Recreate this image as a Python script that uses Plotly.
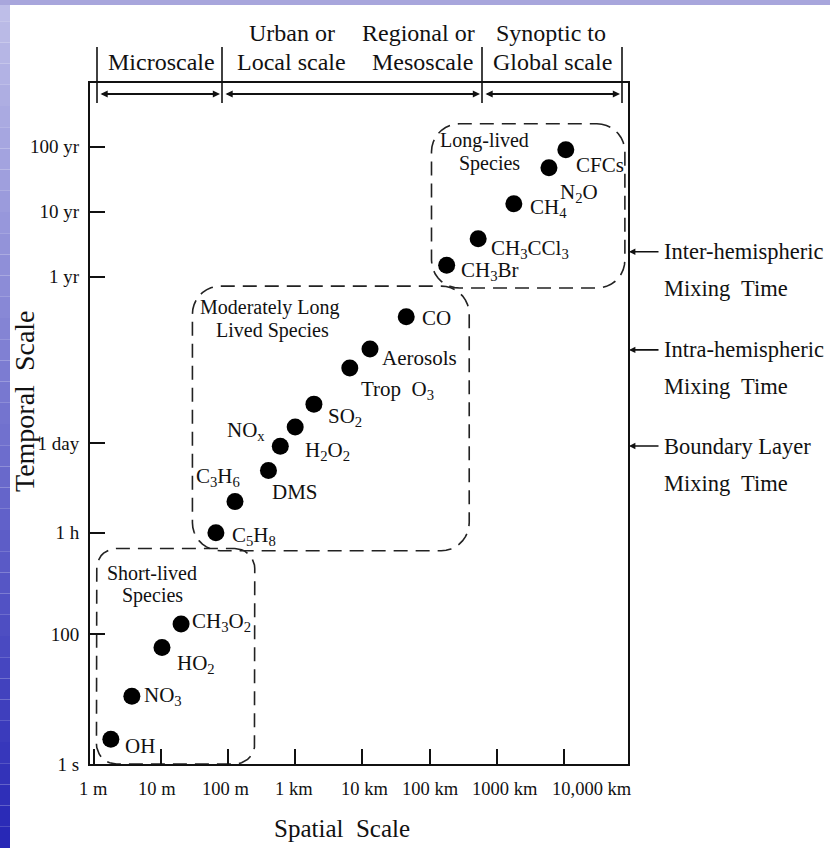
import numpy as np
import plotly.graph_objects as go

# ---------------- data ----------------
species_labels = ["OH", "NO<sub>3</sub>", "HO<sub>2</sub>", "CH<sub>3</sub>O<sub>2</sub>",
                  "C<sub>5</sub>H<sub>8</sub>", "C<sub>3</sub>H<sub>6</sub>", "DMS", "NO<sub>x</sub>",
                  "H<sub>2</sub>O<sub>2</sub>", "SO<sub>2</sub>", "Trop  O<sub>3</sub>", "Aerosols", "CO",
                  "CH<sub>3</sub>Br", "CH<sub>3</sub>CCl<sub>3</sub>", "CH<sub>4</sub>", "N<sub>2</sub>O", "CFCs"]
spatial_m = [1.8, 3.7, 10.4, 20, 66, 127, 400, 600, 1000, 1900, 6500, 13000, 45000,
             1.8e5, 5.3e5, 1.8e6, 6.0e6, 1.07e7]
lifetime_s = [2.4, 11, 62, 143, 3600, 10900, 32800, 77600, 1.53e5, 3.44e5, 1.24e6, 2.43e6, 7.6e6,
              4.7e7, 1.2e8, 4.17e8, 1.49e9, 2.82e9]

x_tick_vals = [1, 10, 100, 1e3, 1e4, 1e5, 1e6, 1e7]
x_tick_text = ["1 m", "10 m", "100 m", "1 km", "10 km", "100 km", "1000 km", "10,000 km"]
y_tick_vals = [1, 100, 3600, 86400, 3.156e7, 3.156e8, 3.156e9]
y_tick_text = ["1 s", "100", "1 h", "1 day", "1 yr", "10 yr", "100 yr"]

# species groups (dashed rounded boxes): extents in metres / seconds
box_x_m = [(1.1, 250), (29.5, 3.9e5), (1.07e5, 8.1e7)]
box_y_s = [(1, 2070), (1914, 2.25e7), (2.10e7, 7.08e9)]
box_title_text = [["Short-lived", "Species"], ["Moderately Long", "Lived Species"], ["Long-lived", "Species"]]
box_title_x_m = [[7.4, 7.6], [420, 459], [6.58e5, 7.83e5]]
box_title_y_s = [[871, 396], [1.07e7, 4.61e6], [3.9e9, 1.75e9]]

mixing_labels = ["Inter-hemispheric", "Intra-hemispheric", "Boundary Layer"]
mixing_time_s = [7.6e7, 2.35e6, 7.8e4]

scale_row1 = ["Urban or", "Regional or", "Synoptic to"]
scale_row2 = ["Microscale", "Local scale", "Mesoscale", "Global scale"]

# ---------------- layout geometry (pixels) ----------------
W, H = 830, 848
L, R, T, B = 90, 628, 83, 764
XR = [-0.055, 7.955]
YR = [0.0, 10.477]
FONT = "Liberation Serif, Times New Roman, serif"


def pxp(x):
    return (x - L) / (R - L)


def pyp(y):
    return (B - y) / (B - T)


# label placement: (xanchor, xshift, yshift)
label_pos = [("left", 12, -7), ("left", 10, 0), ("left", 13, -16), ("left", 9, 2),
             ("left", 14, -3), ("right", 7, 25), ("left", 2, -22), ("right", -13, 15),
             ("left", 8, -24), ("left", 12, -13), ("left", 9, -22), ("left", 10, -9),
             ("left", 14, -1), ("left", 12, -6), ("left", 11, -10), ("left", 14, -4),
             ("left", 9, -25), ("left", 8, -15)]
# x tick label nudges (pixels)
x_label_shift = [0, -4, -3, -1, 2, 1, 8, 28]

fig = go.Figure()

# rounded dashed boxes
rxpx = [20, 28, 28]
for (x0, x1), (y0, y1), rp in zip(box_x_m, box_y_s, rxpx):
    lx0, lx1, ly0, ly1 = np.log10(x0), np.log10(x1), np.log10(y0), np.log10(y1)
    rx = rp / ((R - L) / (XR[1] - XR[0]))
    ry = rp / ((B - T) / (YR[1] - YR[0]))
    xs, ys = [], []
    corners = [((lx1 - rx, ly1 - ry), np.pi / 2, 0),
               ((lx1 - rx, ly0 + ry), 0, -np.pi / 2),
               ((lx0 + rx, ly0 + ry), -np.pi / 2, -np.pi),
               ((lx0 + rx, ly1 - ry), np.pi, np.pi / 2)]
    for (cx, cy), a0, a1 in corners:
        a = np.linspace(a0, a1, 10)
        xs.extend(cx + rx * np.cos(a))
        ys.extend(cy + ry * np.sin(a))
    xs.append(xs[0])
    ys.append(ys[0])
    fig.add_trace(go.Scatter(x=10 ** np.array(xs), y=10 ** np.array(ys), mode="lines",
                             line=dict(color="#222", width=1.6, dash="14px,8px"),
                             hoverinfo="skip", showlegend=False, cliponaxis=False))

# species dots
fig.add_trace(go.Scatter(x=spatial_m, y=lifetime_s, mode="markers",
                         marker=dict(size=17, color="black"), hoverinfo="skip",
                         showlegend=False, cliponaxis=False))

ann = []
for lab, xm, ys_, (xa, dx, dy) in zip(species_labels, spatial_m, lifetime_s, label_pos):
    ann.append(dict(x=np.log10(xm), y=np.log10(ys_), xref="x", yref="y", text=lab,
                    showarrow=False, xanchor=xa, yanchor="middle", xshift=dx, yshift=dy,
                    font=dict(family=FONT, size=21, color="#111")))

for lines, xl, yl in zip(box_title_text, box_title_x_m, box_title_y_s):
    for tx, xm, ys_ in zip(lines, xl, yl):
        ann.append(dict(x=np.log10(xm), y=np.log10(ys_), xref="x", yref="y", text=tx,
                        showarrow=False, xanchor="center", yanchor="middle",
                        font=dict(family=FONT, size=20, color="#111")))

# x tick labels (placed on the axis tick values)
for tv, tt, sh in zip(x_tick_vals, x_tick_text, x_label_shift):
    ann.append(dict(x=np.log10(tv), y=0, xref="x", yref="paper", text=tt, showarrow=False,
                    xanchor="center", yanchor="middle", xshift=sh, yshift=-25,
                    font=dict(family=FONT, size=18.5, color="#111")))

# mixing time arrows on the right
for lab, ts in zip(mixing_labels, mixing_time_s):
    ly = np.log10(ts)
    ann.append(dict(x=pxp(629), y=ly, xref="paper", yref="y", text="", showarrow=True,
                    ax=31, ay=0, axref="pixel", ayref="pixel", arrowhead=2, arrowsize=0.8,
                    arrowwidth=1.6, arrowcolor="#111"))
    ann.append(dict(x=pxp(662), y=ly, xref="paper", yref="y", text=lab, showarrow=False,
                    xanchor="left", yanchor="middle",
                    font=dict(family=FONT, size=22.5, color="#111")))
    ann.append(dict(x=pxp(662), y=ly, xref="paper", yref="y", text="Mixing  Time",
                    showarrow=False, xanchor="left", yanchor="middle", yshift=-37,
                    font=dict(family=FONT, size=22.5, color="#111")))

# header scale labels
for tx, xc in zip(scale_row1, [292, 418, 551]):
    ann.append(dict(x=pxp(xc), y=pyp(33), xref="paper", yref="paper", text=tx, showarrow=False,
                    xanchor="center", yanchor="middle", font=dict(family=FONT, size=24, color="#111")))
for tx, xc in zip(scale_row2, [161, 291, 422, 552]):
    ann.append(dict(x=pxp(xc), y=pyp(62), xref="paper", yref="paper", text=tx, showarrow=False,
                    xanchor="center", yanchor="middle", font=dict(family=FONT, size=24, color="#111")))

# header double arrows
for s, e in [(99, 220), (224, 480), (484, 620)]:
    ann.append(dict(x=pxp(e), y=pyp(94), xref="paper", yref="paper", text="", showarrow=True,
                    ax=-(e - s), ay=0, axref="pixel", ayref="pixel", arrowhead=2,
                    arrowside="end+start", arrowsize=0.8, arrowwidth=1.8, arrowcolor="#111"))

# axis titles
ann.append(dict(x=pxp(342), y=pyp(828), xref="paper", yref="paper", text="Spatial  Scale",
                showarrow=False, xanchor="center", yanchor="middle",
                font=dict(family=FONT, size=25, color="#111")))
ann.append(dict(x=pxp(24), y=pyp(401), xref="paper", yref="paper", text="Temporal  Scale",
                showarrow=False, xanchor="center", yanchor="middle", textangle=-90,
                font=dict(family=FONT, size=28, color="#111")))

shapes = []
for xs_ in [97, 222, 482, 622]:
    shapes.append(dict(type="line", xref="paper", yref="paper", x0=pxp(xs_), x1=pxp(xs_),
                       y0=pyp(47), y1=pyp(103), line=dict(color="#111", width=1.6)))

# blue slide background strips
n = 40
for i in range(n):
    f = i / (n - 1)
    r = int(190 - 150 * f)
    g = int(190 - 150 * f)
    b = int(232 - 50 * f)
    shapes.append(dict(type="rect", xref="paper", yref="paper", x0=pxp(0), x1=pxp(10),
                       y0=pyp(H * (i + 1) / n), y1=pyp(H * i / n), layer="below",
                       line=dict(width=0), fillcolor=f"rgb({r},{g},{b})"))
shapes.append(dict(type="rect", xref="paper", yref="paper", x0=pxp(0), x1=pxp(W),
                   y0=pyp(5), y1=pyp(0), layer="below", line=dict(width=0),
                   fillcolor="rgb(168,166,220)"))

fig.update_layout(
    width=W, height=H, margin=dict(l=L, r=W - R, t=T, b=H - B, pad=0),
    paper_bgcolor="white", plot_bgcolor="white",
    font=dict(family=FONT, size=19, color="#111"),
    annotations=ann, shapes=shapes, showlegend=False,
    xaxis=dict(type="log", range=XR, tickvals=x_tick_vals, ticktext=x_tick_text,
               showticklabels=False,
               ticks="inside", ticklen=15, tickwidth=1.6, tickcolor="#111",
               showline=True, linewidth=2, linecolor="#111", mirror=True,
               showgrid=False, zeroline=False),
    yaxis=dict(type="log", range=YR, tickvals=y_tick_vals, ticktext=y_tick_text,
               ticks="inside", ticklen=15, tickwidth=1.6, tickcolor="#111",
               showline=True, linewidth=2, linecolor="#111", mirror=True,
               showgrid=False, zeroline=False, ticklabelstandoff=5,
               tickfont=dict(family=FONT, size=19, color="#111")),
)

fig.write_html("out.html", config={"displayModeBar": False},
               post_script="document.body.style.margin='0px';")
